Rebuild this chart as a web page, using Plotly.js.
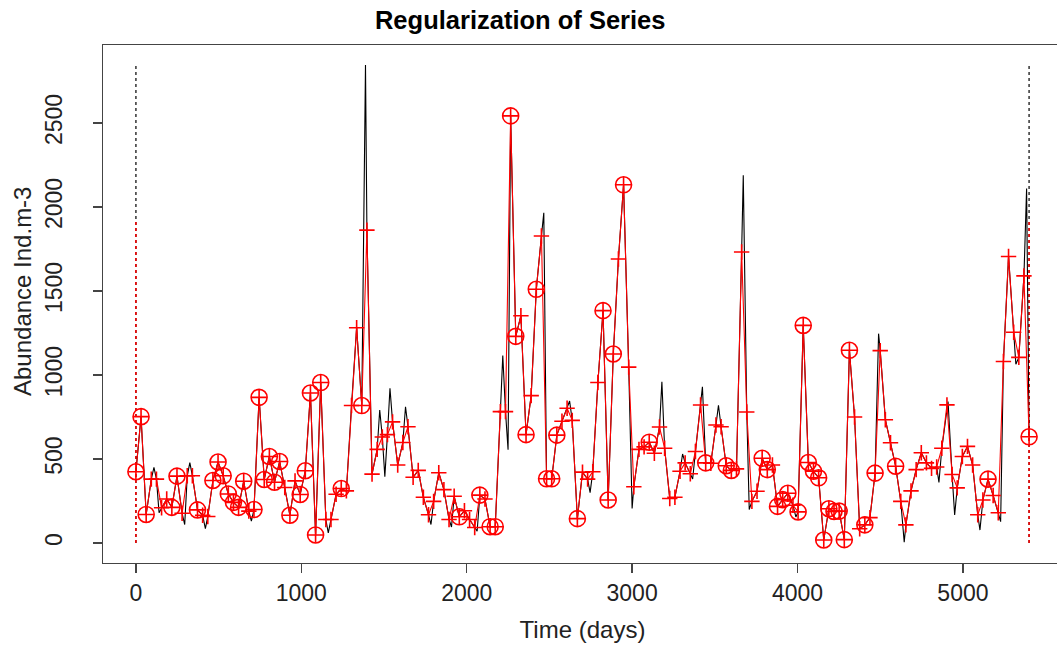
<!DOCTYPE html>
<html>
<head>
<meta charset="utf-8">
<script src="https://cdn.plot.ly/plotly-3.0.1.min.js"></script>
<style>
  html, body { margin: 0; padding: 0; overflow: hidden; background: #fff; }
  #chart { width: 1066px; height: 645px; }
</style>
</head>
<body>
<div id="chart"></div>
<script>
// ---- Regularized series (regular time grid from 0 to 5400 days) ----
const startDay = 0;
const endDay = 5400;
const regValue = [
  424, 752, 170, 380, 380, 210, 262, 212, 398, 177,
  400, 400, 197, 165, 158, 372, 482, 400, 292, 242,
  212, 368, 190, 199, 867, 378, 515, 362, 485, 330,
  165, 370, 289, 430, 893, 48, 955, 140, 140, 290,
  324, 310, 818, 1281, 818, 1862, 410, 557, 631, 645,
  721, 464, 598, 692, 391, 432, 272, 168, 248, 418,
  318, 140, 278, 156, 192, 140, 92, 285, 262, 97, 97,
  782, 782, 2542, 1230, 1353, 645, 877, 1510, 1827, 382,
  382, 642, 725, 802, 730, 145, 422, 380, 424, 955,
  1383, 256, 1125, 1690, 2132, 1047, 335, 557, 572, 600,
  534, 690, 564, 265, 272, 427, 477, 412, 545, 821,
  477, 475, 702, 692, 460, 432, 441, 1732, 780, 248,
  308, 504, 437, 464, 218, 258, 296, 225, 185, 1295,
  479, 427, 388, 18, 204, 188, 190, 20, 1147, 750,
  85, 108, 151, 416, 1145, 734, 597, 457, 248, 108,
  310, 437, 537, 477, 444, 452, 564, 822, 408, 328,
  515, 575, 464, 168, 256, 380, 283, 180, 1080, 1705,
  1254, 1105, 1590, 632
];
// 1 = regular value matched an actual observation (circled)
const regObserved = [
  1,1,1,0,0,0,0,1,1,0,
  0,0,1,0,0,1,1,1,1,1,
  1,1,0,1,1,1,1,1,1,0,
  1,0,1,1,1,1,1,0,0,0,
  1,0,0,0,1,0,0,0,0,0,
  0,0,0,0,0,0,0,0,0,0,
  0,0,0,1,0,0,0,1,0,1,1,
  0,0,1,1,0,1,0,1,0,1,
  1,1,0,0,0,1,0,0,0,0,
  1,1,1,0,1,0,0,0,0,1,
  0,0,0,0,0,0,0,0,0,0,
  1,0,0,0,1,1,0,0,0,0,
  0,1,1,0,1,1,1,0,1,1,
  1,1,1,1,1,1,1,1,1,0,
  0,1,0,1,0,0,0,1,0,0,
  0,0,0,0,0,0,0,0,0,0,
  0,0,0,0,0,1,0,0,0,0,
  0,0,0,1
];
// ---- Original (irregular) series: extra vertices between regular points ----
const origExtraTime = [109, 140, 295, 326, 420, 698, 1163, 1388, 1474, 1505,
  1536, 1630, 1784, 1908, 2063, 2218, 2250, 2466, 2622, 2746,
  3000, 3180, 3305, 3366, 3425, 3522, 3672, 3708, 3990, 4490,
  4645, 4855, 4910, 4950, 5103, 5228, 5320, 5385];
const origExtraValue = [450, 180, 110, 478, 85, 130, 60, 2845, 792, 395,
  921, 811, 110, 95, 70, 1116, 555, 1965, 845, 300,
  206, 960, 530, 381, 930, 820, 2188, 199, 155, 1246,
  5, 360, 842, 167, 77, 127, 1064, 2110];
// ---- axis ticks ----
const xTicks = [0, 1000, 2000, 3000, 4000, 5000];
const yTicks = [0, 500, 1000, 1500, 2000, 2500];
// vertical guide extents
const guideBlackTop = 2845;
const guideRedTop = 1920;

const n = regValue.length;
const stepDays = (endDay - startDay) / (n - 1);
const regTime = regValue.map((_, i) => startDay + i * stepDays);

// merge regular points and extra original vertices for the black line
const merged = regTime.map((t, i) => [t, regValue[i]])
  .concat(origExtraTime.map((t, i) => [t, origExtraValue[i]]))
  .sort((a, b) => a[0] - b[0]);
const origTime = merged.map(p => p[0]);
const origValue = merged.map(p => p[1]);

const obsTime = regTime.filter((_, i) => regObserved[i] === 1);
const obsValue = regValue.filter((_, i) => regObserved[i] === 1);

const RED = '#ff0000';
const FONT = 'Liberation Sans, Arial, Helvetica, sans-serif';

const traces = [
  { x: origTime, y: origValue, type: 'scatter', mode: 'lines',
    line: { color: '#000000', width: 1.1 }, hoverinfo: 'skip' },
  { x: regTime, y: regValue, type: 'scatter', mode: 'lines',
    line: { color: RED, width: 1.1 }, hoverinfo: 'skip' },
  { x: regTime, y: regValue, type: 'scatter', mode: 'markers',
    marker: { symbol: 'cross-thin-open', size: 11, color: RED, line: { color: RED, width: 1.6 } } },
  { x: obsTime, y: obsValue, type: 'scatter', mode: 'markers',
    marker: { symbol: 'circle-open', size: 16, color: RED, line: { color: RED, width: 1.6 } } }
];

const shapes = [];
[regTime[0], regTime[n - 1]].forEach(t => {
  shapes.push({ type: 'line', xref: 'x', yref: 'y', x0: t, x1: t, y0: 0, y1: guideBlackTop,
    line: { color: '#333333', width: 1.5, dash: 'dot' }, layer: 'below' });
  shapes.push({ type: 'line', xref: 'x', yref: 'y', x0: t, x1: t, y0: 0, y1: guideRedTop,
    line: { color: RED, width: 1.5, dash: 'dot' }, layer: 'below' });
});

const layout = {
  width: 1066, height: 645,
  margin: { l: 103, r: 4, t: 45, b: 82 },
  paper_bgcolor: '#ffffff', plot_bgcolor: '#ffffff',
  showlegend: false,
  title: { text: '<b>Regularization of Series</b>', xref: 'container', x: 0.488, xanchor: 'center',
    yref: 'container', y: 0.969, yanchor: 'middle',
    font: { family: FONT, size: 25.5, color: '#000' } },
  xaxis: {
    range: [-199, 5599], tickvals: xTicks, ticktext: xTicks.map(String),
    ticks: 'outside', ticklen: 9, tickwidth: 1.3, tickcolor: '#444',
    showline: true, mirror: true, linecolor: '#444', linewidth: 1.3,
    showgrid: false, zeroline: false,
    tickfont: { family: FONT, size: 23, color: '#222' },
    title: { text: 'Time (days)', font: { family: FONT, size: 24, color: '#222' }, standoff: 16 }
  },
  yaxis: {
    range: [-119, 2964], tickvals: yTicks, ticktext: yTicks.map(String), tickangle: -90,
    ticks: 'outside', ticklen: 9, tickwidth: 1.3, tickcolor: '#444',
    ticklabelstandoff: 22,
    showline: true, mirror: true, linecolor: '#444', linewidth: 1.3,
    showgrid: false, zeroline: false,
    tickfont: { family: FONT, size: 23, color: '#222' }
  },
  annotations: [{
    text: 'Abundance Ind.m-3', textangle: -90, showarrow: false,
    xref: 'paper', yref: 'paper', x: -0.0845, y: 0.525, xanchor: 'center', yanchor: 'middle',
    font: { family: FONT, size: 24, color: '#222' }
  }],
  shapes: shapes
};

Plotly.newPlot('chart', traces, layout, { staticPlot: true, displayModeBar: false });
</script>
</body>
</html>
